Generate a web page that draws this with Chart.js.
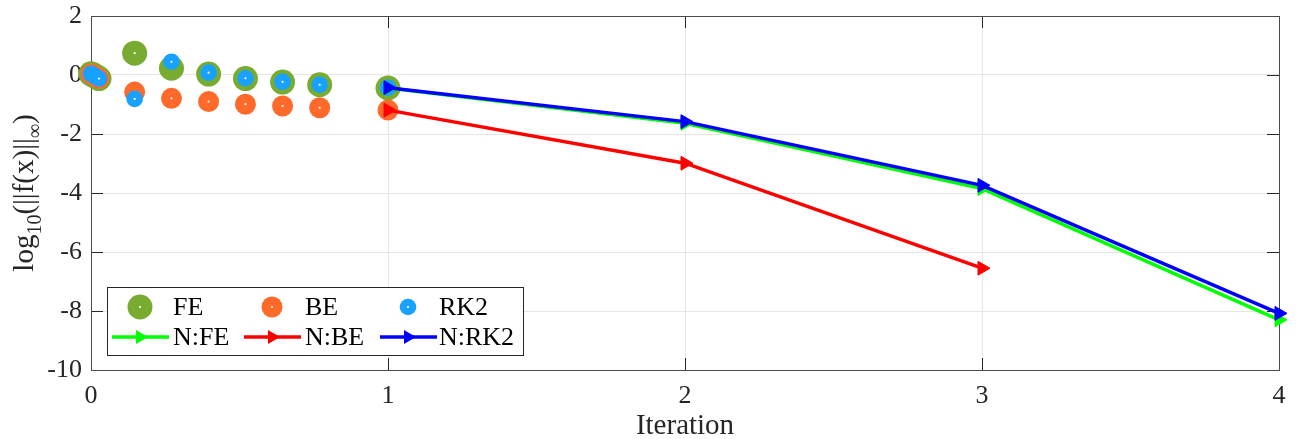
<!DOCTYPE html>
<html>
<head>
<meta charset="utf-8">
<script src="https://cdn.jsdelivr.net/npm/chart.js@4.4.1/dist/chart.umd.min.js"></script>
<style>
  html, body { margin: 0; padding: 0; background: #ffffff; }
  #wrap { width: 1301px; height: 439px; }
</style>
</head>
<body>
<div id="wrap"><canvas id="c" width="1301" height="439"></canvas></div>
<script>
// Pseudo-time stepping residuals (scatter) followed by Newton iterations (lines)
const stepX   = [0, 0.009, 0.018, 0.027, 0.147, 0.271, 0.396, 0.52, 0.645, 0.77, 1.0];
const feStep  = [0.04, -0.01, -0.06, -0.12, 0.74, 0.23, 0.03, -0.12, -0.24, -0.33, -0.44];
const beStep  = [0.04, -0.01, -0.06, -0.12, -0.58, -0.79, -0.90, -0.99, -1.05, -1.11, -1.19];
const rk2Step = [0.04, -0.01, -0.06, -0.12, -0.81, 0.45, 0.08, -0.11, -0.23, -0.33, -0.43];

const newtonIterFE  = [1, 2, 3, 4];
const newtonFE      = [-0.44, -1.64, -3.85, -8.30];
const newtonIterBE  = [1, 2, 3];
const newtonBE      = [-1.19, -2.99, -6.55];
const newtonIterRK2 = [1, 2, 3, 4];
const newtonRK2     = [-0.43, -1.58, -3.74, -8.08];

const xTicks = [0, 1, 2, 3, 4];
const yTicks = [-10, -8, -6, -4, -2, 0, 2];

const SERIF = "'Liberation Serif', 'Times New Roman', serif";
const INK = '#262626';

const COL = {
  fe: '#77ac30', be: '#ff6a2b', rk2: '#18a1ff',
  nfe: '#00ff00', nbe: '#ff0000', nrk2: '#0000ff'
};

const pts = (xs, ys) => xs.map((x, i) => ({ x: x, y: ys[i] }));

function markerSet(label, xs, ys, color, r, ord) {
  return {
    label, data: pts(xs, ys), showLine: false,
    pointRadius: r, pointHoverRadius: r,
    pointBackgroundColor: color, pointBorderColor: color, pointBorderWidth: 0,
    clip: false, order: ord, isStep: true
  };
}
function newtonSet(label, xs, ys, color, ord) {
  return {
    label, data: pts(xs, ys), showLine: true,
    borderColor: color, backgroundColor: color, borderWidth: 3.5,
    pointStyle: 'triangle', rotation: 90,
    pointRadius: 8, pointHoverRadius: 8,
    pointBackgroundColor: color, pointBorderColor: color, pointBorderWidth: 1,
    tension: 0, clip: false, order: ord
  };
}

// Axes box with inward tick marks (drawn beneath the data)
const boxPlugin = {
  id: 'box',
  beforeDatasetsDraw(chart) {
    const { ctx, chartArea: a, scales } = chart;
    const len = 12;
    ctx.save();
    ctx.strokeStyle = INK;
    ctx.lineWidth = 1;
    ctx.beginPath();
    xTicks.forEach(v => {
      const px = Math.round(scales.x.getPixelForValue(v)) + 0.5;
      ctx.moveTo(px, a.bottom); ctx.lineTo(px, a.bottom - len);
      ctx.moveTo(px, a.top); ctx.lineTo(px, a.top + len);
    });
    yTicks.forEach(v => {
      const py = Math.round(scales.y.getPixelForValue(v)) + 0.5;
      ctx.moveTo(a.left, py); ctx.lineTo(a.left + len, py);
      ctx.moveTo(a.right, py); ctx.lineTo(a.right - len, py);
    });
    ctx.stroke();
    ctx.strokeStyle = '#4a4a4a';
    ctx.strokeRect(Math.round(a.left) + 0.5, Math.round(a.top) + 0.5,
                   Math.round(a.right - a.left), Math.round(a.bottom - a.top));
    ctx.restore();
  }
};

// White centre dot in each step marker that is not covered by a later marker
const dotPlugin = {
  id: 'dots',
  afterDatasetDraw(chart, args) {
    const ds = chart.data.datasets[args.index];
    if (!ds.isStep) return;
    const ctx = chart.ctx;
    const els = args.meta.data;
    const r = ds.pointRadius;
    ctx.save();
    ctx.fillStyle = '#ffffff';
    els.forEach((p, i) => {
      const covered = els.slice(i + 1).some(q => Math.hypot(q.x - p.x, q.y - p.y) < r);
      if (covered) return;
      ctx.beginPath();
      ctx.arc(p.x, p.y, 1.1, 0, Math.PI * 2);
      ctx.fill();
    });
    ctx.restore();
  }
};

function drawTitles(chart) {
  const { ctx, chartArea: a } = chart;
  ctx.save();
  ctx.fillStyle = INK;
  // x title
  ctx.font = `29px ${SERIF}`;
  ctx.textAlign = 'center';
  ctx.textBaseline = 'alphabetic';
  ctx.fillText('Iteration', (a.left + a.right) / 2, 434);

  // y title: log10(||f(x)||inf) with subscripts, rotated
  const big = `29px ${SERIF}`, small = `20px ${SERIF}`;
  const parts = [
    { t: 'log', f: big, dy: 0 },
    { t: '10', f: small, dy: 8 },
    { t: '(||f(x)||', f: big, dy: 0 },
    { t: '\u221E', f: small, dy: 8 },
    { t: ')', f: big, dy: 0 }
  ];
  let total = 0;
  parts.forEach(p => { ctx.font = p.f; p.w = ctx.measureText(p.t).width; total += p.w; });
  ctx.translate(33, (a.top + a.bottom) / 2);
  ctx.rotate(-Math.PI / 2);
  ctx.textAlign = 'left';
  let x = -total / 2;
  parts.forEach(p => { ctx.font = p.f; ctx.fillText(p.t, x, p.dy); x += p.w; });
  ctx.restore();
}

function drawLegend(chart) {
  const { ctx, chartArea: a } = chart;
  const L = a.left + 16, T = a.bottom - 83, W = 416, H = 68;
  ctx.save();
  ctx.fillStyle = '#ffffff';
  ctx.fillRect(L, T, W, H);
  ctx.strokeStyle = INK;
  ctx.lineWidth = 1;
  ctx.strokeRect(L + 0.5, T + 0.5, W, H);

  const row1 = T + 20, row2 = T + 50;
  const cols = [L + 33, L + 165, L + 301];
  const textX = [L + 66, L + 198, L + 332];
  const ds = chart.data.datasets;
  ctx.font = `26px ${SERIF}`;
  ctx.textBaseline = 'middle';
  ctx.textAlign = 'left';

  for (let i = 0; i < 3; i++) {
    const d = ds[i];
    ctx.fillStyle = d.pointBackgroundColor;
    ctx.beginPath(); ctx.arc(cols[i], row1, d.pointRadius, 0, Math.PI * 2); ctx.fill();
    ctx.fillStyle = '#ffffff';
    ctx.beginPath(); ctx.arc(cols[i], row1, 1.1, 0, Math.PI * 2); ctx.fill();
    ctx.fillStyle = '#000000';
    ctx.fillText(d.label, textX[i], row1 + 1);
  }
  for (let i = 0; i < 3; i++) {
    const d = ds[i + 3];
    const cx = cols[i];
    ctx.strokeStyle = d.borderColor;
    ctx.lineWidth = d.borderWidth;
    ctx.beginPath(); ctx.moveTo(cx - 28, row2); ctx.lineTo(cx + 29, row2); ctx.stroke();
    ctx.fillStyle = d.borderColor;
    ctx.beginPath();
    const r = d.pointRadius;
    ctx.moveTo(cx + r, row2);
    ctx.lineTo(cx - r / 2, row2 - r * 0.866);
    ctx.lineTo(cx - r / 2, row2 + r * 0.866);
    ctx.closePath(); ctx.fill();
    ctx.fillStyle = '#000000';
    ctx.fillText(d.label, textX[i], row2 + 1);
  }
  ctx.restore();
}

const overlayPlugin = {
  id: 'overlay',
  afterDraw(chart) { drawTitles(chart); drawLegend(chart); }
};

const tickFont = { family: SERIF, size: 26 };

new Chart(document.getElementById('c'), {
  type: 'scatter',
  data: {
    datasets: [
      markerSet('FE', stepX, feStep, COL.fe, 12.5, 6),
      markerSet('BE', stepX, beStep, COL.be, 10.5, 5),
      markerSet('RK2', stepX, rk2Step, COL.rk2, 8.3, 4),
      newtonSet('N:FE', newtonIterFE, newtonFE, COL.nfe, 3),
      newtonSet('N:BE', newtonIterBE, newtonBE, COL.nbe, 2),
      newtonSet('N:RK2', newtonIterRK2, newtonRK2, COL.nrk2, 1)
    ]
  },
  options: {
    responsive: false,
    animation: false,
    devicePixelRatio: 1,
    layout: { padding: { top: 16, right: 22, left: 0, bottom: 0 } },
    plugins: { legend: { display: false }, tooltip: { enabled: false } },
    events: [],
    scales: {
      x: {
        type: 'linear', min: 0, max: 4,
        afterBuildTicks: s => { s.ticks = xTicks.map(v => ({ value: v })); },
        afterFit: s => { s.height = 69; s.paddingLeft = 0; s.paddingRight = 0; },
        ticks: { font: tickFont, color: INK, padding: 11, maxRotation: 0, autoSkip: false,
                 callback: v => String(v) },
        grid: { color: '#e6e6e6', lineWidth: 1, drawTicks: false },
        border: { display: false }
      },
      y: {
        type: 'linear', min: -10, max: 2,
        afterBuildTicks: s => { s.ticks = yTicks.map(v => ({ value: v })); },
        afterFit: s => { s.width = 91; s.paddingTop = 0; s.paddingBottom = 0; },
        ticks: { font: tickFont, color: INK, padding: 9, autoSkip: false,
                 callback: v => String(v) },
        grid: { color: '#e6e6e6', lineWidth: 1, drawTicks: false },
        border: { display: false }
      }
    }
  },
  plugins: [boxPlugin, dotPlugin, overlayPlugin]
});
</script>
</body>
</html>
